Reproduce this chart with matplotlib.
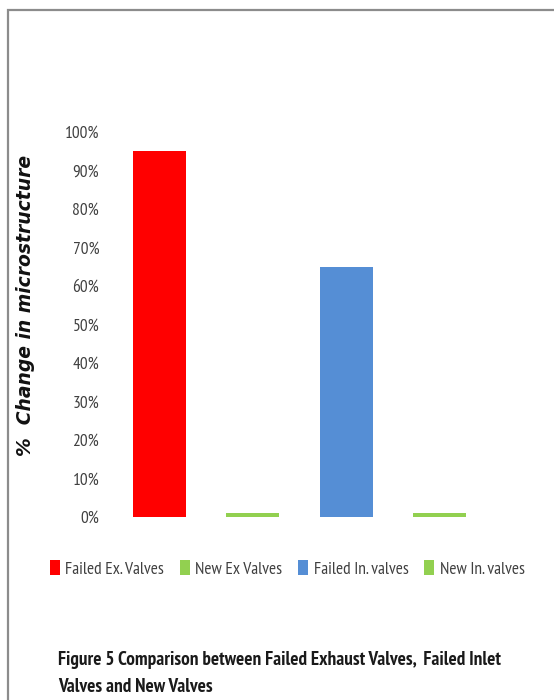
import matplotlib.pyplot as plt
from matplotlib.patches import Rectangle

# data
categories = ['Failed Ex. Valves', 'New Ex Valves', 'Failed In. valves', 'New In. valves']
values = [0.95, 0.01, 0.65, 0.01]
colors = ['#FF0000', '#92D050', '#558ED5', '#92D050']
yticks = [0, 0.1, 0.2, 0.3, 0.4, 0.5, 0.6, 0.7, 0.8, 0.9, 1.0]

narrow = ['PT Sans Narrow', 'DejaVu Sans']

fig = plt.figure(figsize=(5.54, 7), dpi=100)

# grey frame on the top and left, like the cropped page
fig.patches.append(Rectangle((8 / 554, -0.01), 1.1, (700 - 10) / 700 + 0.01,
                             transform=fig.transFigure, fill=False,
                             edgecolor='#8c8c8c', linewidth=1.6))

ax = fig.add_axes([113 / 554, 183 / 700, 373 / 554, 385 / 700])
bars = ax.bar(range(len(categories)), values, width=0.57, color=colors)
ax.set_xlim(-0.5, 3.5)
ax.set_ylim(0, 1)
ax.set_yticks(yticks)
ax.set_yticklabels(['{:.0f}%'.format(v * 100) for v in yticks],
                   family=narrow, fontsize=12.5, color='#404040')
ax.set_xticks([])
for s in ax.spines.values():
    s.set_visible(False)
ax.tick_params(axis='y', length=0, pad=10)

fig.text(26 / 554, 1 - 305 / 700, '%  Change in microstructure', rotation=90,
         ha='center', va='center', fontsize=13.5, fontweight='bold',
         fontstyle='italic', family=['DejaVu Sans'], color='#111111')

leg = fig.legend(bars, categories, loc='center', bbox_to_anchor=(287 / 554, 1 - 569 / 700),
                 ncol=4, frameon=False, handlelength=0.6, handleheight=0.9,
                 handletextpad=0.3, columnspacing=0.9,
                 prop={'family': narrow, 'size': 12.5})
for t in leg.get_texts():
    t.set_color('#404040')

fig.text(58 / 554, 1 - 660 / 700,
         'Figure 5 Comparison between Failed Exhaust Valves,  Failed Inlet',
         ha='left', va='center', fontsize=13.8, fontweight='bold', family=narrow, color='#1a1a1a')
fig.text(58 / 554, 1 - 687 / 700, 'Valves and New Valves',
         ha='left', va='center', fontsize=13.8, fontweight='bold', family=narrow, color='#1a1a1a')

fig.savefig('out.png', dpi=100)
